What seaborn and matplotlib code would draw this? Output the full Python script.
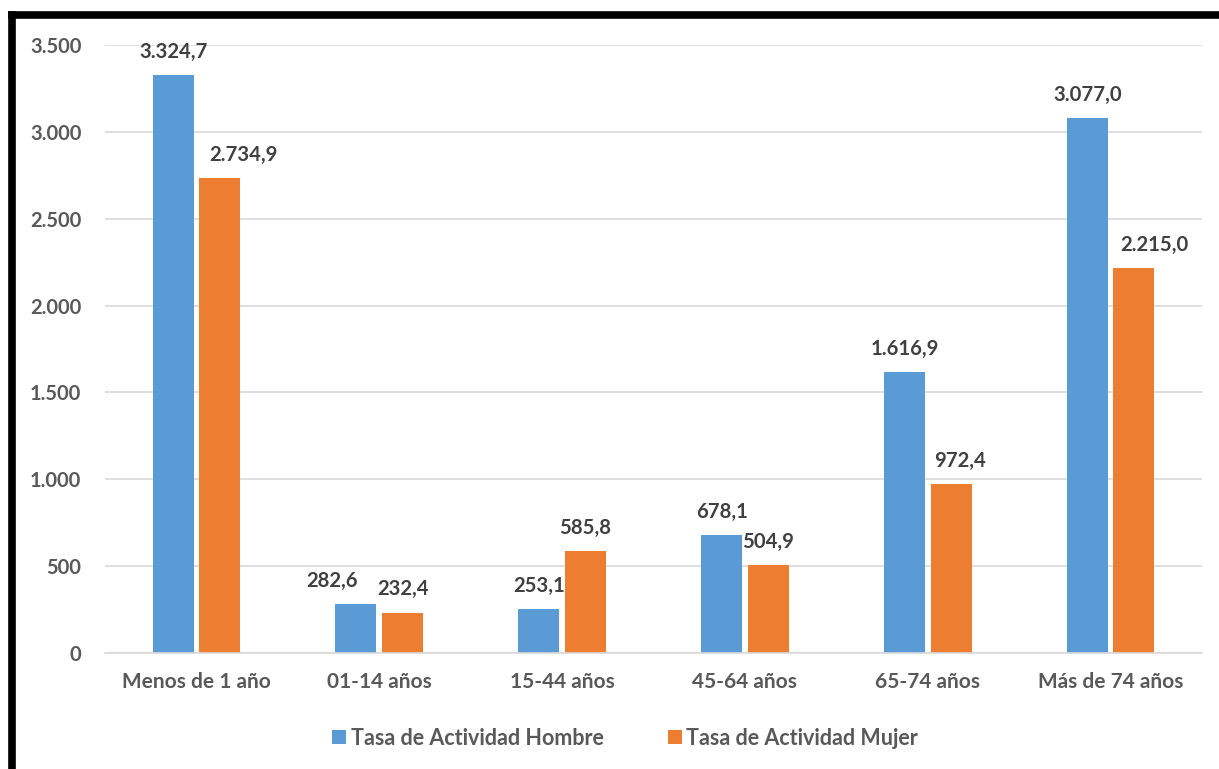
import matplotlib
matplotlib.use("Agg")
import matplotlib.pyplot as plt
import seaborn as sns
import pandas as pd
from matplotlib.lines import Line2D
from matplotlib.patches import Patch

categories = ["Menos de 1 año", "01-14 años", "15-44 años", "45-64 años", "65-74 años", "Más de 74 años"]
hombre = [3324.7, 282.6, 253.1, 678.1, 1616.9, 3077.0]
mujer = [2734.9, 232.4, 585.8, 504.9, 972.4, 2215.0]
series = ["Tasa de Actividad Hombre", "Tasa de Actividad Mujer"]
yticks = [0, 500, 1000, 1500, 2000, 2500, 3000, 3500]
colors = ["#5B9BD5", "#ED7D31"]
# horizontal nudges of the data labels (pixels), as placed in the original
label_dx = [[0, -24, 0, 0, 0, 0], [24, 0, 0, 0, 9, 20]]

def fmt(v, dec=1):
    s = f"{v:,.{dec}f}"
    return s.replace(",", "X").replace(".", ",").replace("X", ".")

df = pd.DataFrame({
    "cat": categories * 2,
    "val": hombre + mujer,
    "serie": [series[0]] * len(categories) + [series[1]] * len(categories),
})

sns.set_theme(style="white")
plt.rcParams["font.family"] = ["Lato", "DejaVu Sans"]
plt.rcParams["font.weight"] = "bold"

fig = plt.figure(figsize=(12.19, 7.69), dpi=100)
ax = fig.add_axes([105 / 1219, 0.1508, 1097 / 1219, 0.7907])
sns.barplot(data=df, x="cat", y="val", hue="serie", palette=colors,
            width=0.51, gap=0.12, ax=ax, legend=False, saturation=1,
            linewidth=0, edgecolor="none")

ax.set_ylim(0, 3500)
ax.set_xlim(-0.5, len(categories) - 0.5)
ax.set_yticks(yticks, [fmt(t, 0) for t in yticks], fontweight="bold",
              fontsize=14.5, color="#595959")
ax.set_xticks(range(len(categories)), categories, fontweight="bold",
              fontsize=15, color="#595959")
ax.yaxis.grid(True, color="#D9D9D9", linewidth=1.2)
ax.set_axisbelow(True)
for s in ["top", "right", "left"]:
    ax.spines[s].set_visible(False)
ax.spines["bottom"].set_color("#D9D9D9")
ax.spines["bottom"].set_linewidth(1.2)
ax.set_xlabel("")
ax.set_ylabel("")
ax.tick_params(axis="both", length=0)
ax.tick_params(axis="y", pad=17)
ax.tick_params(axis="x", pad=14)

for si, cont in enumerate(ax.containers):
    for bi, bar in enumerate(cont):
        h = bar.get_height()
        ax.annotate(fmt(h), (bar.get_x() + bar.get_width() / 2, h),
                    xytext=(label_dx[si][bi] * 0.72, 12.5), textcoords="offset points",
                    ha="center", va="baseline", fontsize=14.6,
                    fontweight="bold", color="#404040")

handles = [Patch(facecolor=c, edgecolor="none") for c in colors]
leg = fig.legend(handles, series, loc="center", bbox_to_anchor=(0.513, 0.0403),
                 ncol=2, frameon=False, handlelength=0.65,
                 handleheight=0.65, handletextpad=0.2, columnspacing=3.0,
                 prop={"weight": "bold", "size": 15.5})
for t in leg.get_texts():
    t.set_color("#595959")

# black border (top and left)
W, H = 1219, 769
fig.add_artist(Line2D([12 / W, 1.0], [1 - 15 / H, 1 - 15 / H], color="black",
                      linewidth=5.5, transform=fig.transFigure, solid_capstyle="projecting"))
fig.add_artist(Line2D([12 / W, 12 / W], [0.0, 1 - 15 / H], color="black",
                      linewidth=5.5, transform=fig.transFigure, solid_capstyle="projecting"))

fig.savefig("out.png", dpi=100)
